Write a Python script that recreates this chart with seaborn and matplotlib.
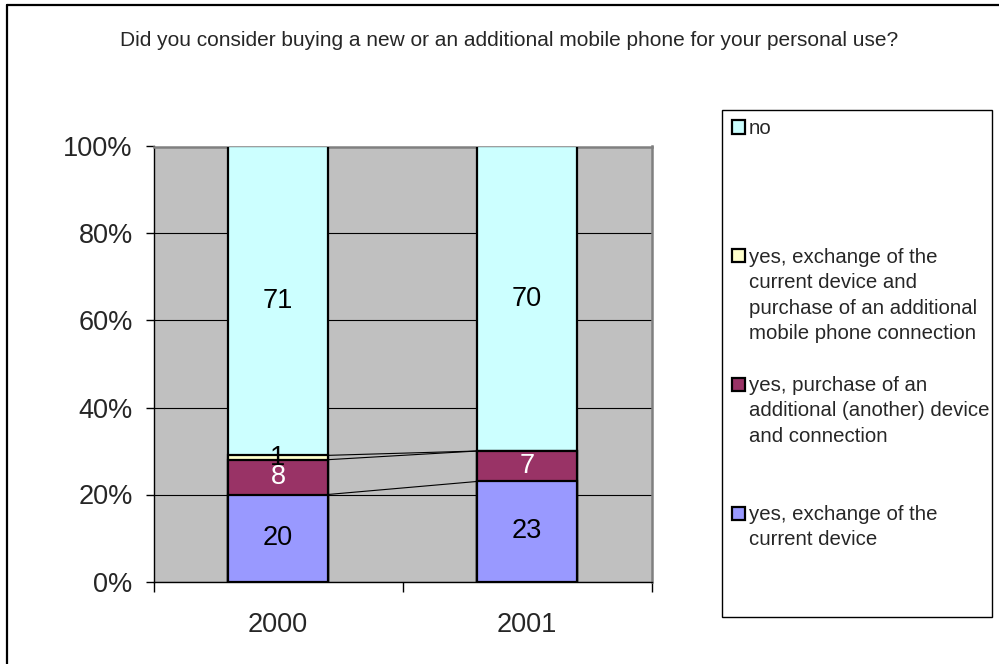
import matplotlib
matplotlib.use("Agg")
import matplotlib.pyplot as plt
from matplotlib.patches import Rectangle
from matplotlib.lines import Line2D
import numpy as np
import pandas as pd
import seaborn as sns

# ---- data -------------------------------------------------------------
years = ["2000", "2001"]

# stacked from the bottom up
exchange_current = [20, 23]
additional_device = [8, 7]
exchange_and_additional = [1, 0]
no_purchase = [71, 70]

series_values = [exchange_current, additional_device, exchange_and_additional, no_purchase]
series_names = [
    "yes, exchange of the\ncurrent device",
    "yes, purchase of an\nadditional (another) device\nand connection",
    "yes, exchange of the\ncurrent device and\npurchase of an additional\nmobile phone connection",
    "no",
]
series_colors = ["#9999FF", "#993366", "#FFFFCC", "#CCFFFF"]
value_text_colors = ["black", "white", "black", "black"]

y_ticks = [0, 20, 40, 60, 80, 100]
y_tick_labels = ["0%", "20%", "40%", "60%", "80%", "100%"]

title = "Did you consider buying a new or an additional mobile phone for your personal use?"

# ---- style ------------------------------------------------------------
sns.set_style("white")
plt.rcParams["font.family"] = ["Liberation Sans", "DejaVu Sans"]

W, H = 999, 664
fig = plt.figure(figsize=(W / 100, H / 100), dpi=100)
fig.patch.set_facecolor("white")

ax_l, ax_r, ax_t, ax_b = 153.5, 651.5, 146.5, 581.5
ax = fig.add_axes([ax_l / W, 1 - ax_b / H, (ax_r - ax_l) / W, (ax_b - ax_t) / H])
ax.set_facecolor("#C0C0C0")

bar_width = 0.40
cum = np.cumsum(np.array(series_values, dtype=float), axis=0)
bottoms = np.vstack([np.zeros(len(years)), cum[:-1]])

# draw cumulative bars from the tallest down so each layer shows its slice
for i in reversed(range(len(series_values))):
    df = pd.DataFrame({"year": years, "top": cum[i]})
    sns.barplot(data=df, x="year", y="top", order=years, color=series_colors[i],
                saturation=1, width=bar_width, edgecolor="black", linewidth=1.6,
                errorbar=None, ax=ax, zorder=3)

# value labels in the middle of each slice
for i, vals in enumerate(series_values):
    for j, v in enumerate(vals):
        if v > 0:
            ax.text(j, bottoms[i][j] + v / 2, f"{v:g}", ha="center", va="center",
                    fontsize=19.5, color=value_text_colors[i], zorder=5)

# series lines joining the tops of matching slices
for i in range(len(series_values) - 1):
    for j in range(len(years) - 1):
        ax.plot([j + bar_width / 2, j + 1 - bar_width / 2], [cum[i][j], cum[i][j + 1]],
                color="black", lw=0.8, zorder=4)

ax.set_xlim(-0.5, len(years) - 0.5)
ax.set_ylim(0, 100)
ax.set_xlabel("")
ax.set_ylabel("")

ax.yaxis.grid(True, color="black", lw=0.8)
ax.xaxis.grid(False)
ax.set_axisbelow(True)

ax.set_yticks(y_ticks)
ax.set_yticklabels(y_tick_labels)
ax.tick_params(axis="y", direction="out", length=6, width=1, color="black",
               labelsize=19.5, pad=9, left=True)
ax.set_xticks(range(len(years)))
ax.set_xticklabels(years)
ax.tick_params(axis="x", which="major", length=0, labelsize=19.5, pad=22)
ax.set_xticks(np.arange(-0.5, len(years)), minor=True)
ax.tick_params(axis="x", which="minor", direction="out", length=7, width=1,
               color="black", bottom=True)

for side in ("left", "bottom"):
    ax.spines[side].set_color("black")
    ax.spines[side].set_linewidth(1)
for side in ("top", "right"):
    ax.spines[side].set_color("#808080")
    ax.spines[side].set_linewidth(1.8)

# title
fig.text(509.5 / W, 1 - 40 / H, title, ha="center", va="center", fontsize=15)

# outer chart frame: only its left and top edges lie inside the image
fig.add_artist(Line2D([7 / W, 7 / W], [0, 1 - 5 / H], transform=fig.transFigure,
                      color="black", lw=1.6))
fig.add_artist(Line2D([7 / W, 1], [1 - 5 / H, 1 - 5 / H], transform=fig.transFigure,
                      color="black", lw=1.6))

# legend box
lx0, lx1, ly0, ly1 = 722, 992, 110, 617
fig.add_artist(Rectangle((lx0 / W, 1 - ly1 / H), (lx1 - lx0) / W, (ly1 - ly0) / H,
                         transform=fig.transFigure, fill=False, ec="black", lw=1))

entry_y = [513, 384, 256, 127]  # first-line centres, bottom series first
sq = 13
for i in range(len(series_values)):
    yc = entry_y[i]
    fig.add_artist(Rectangle(((738 - sq / 2) / W, 1 - (yc + sq / 2) / H), sq / W, sq / H,
                             transform=fig.transFigure, fc=series_colors[i], ec="black", lw=1.6))
    fig.text(749 / W, 1 - (yc - 8) / H, series_names[i], ha="left", va="top",
             fontsize=14.7, linespacing=1.42)

fig.savefig("out.png", dpi=100)
